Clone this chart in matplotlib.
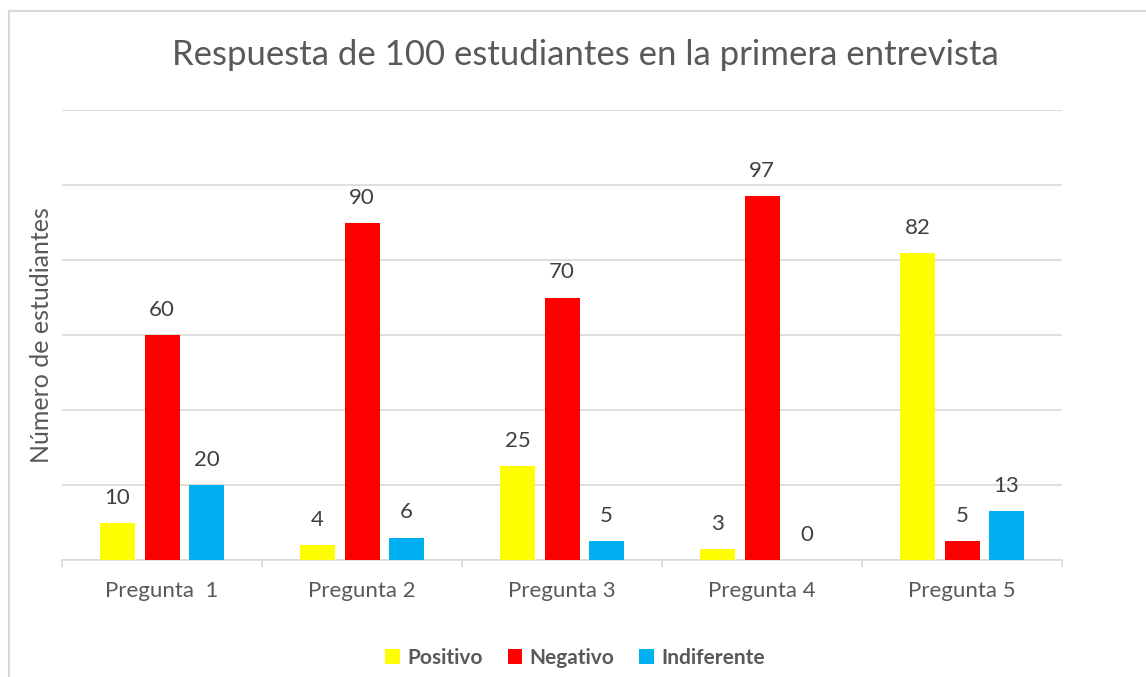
import matplotlib
matplotlib.use("Agg")
import matplotlib.pyplot as plt
import numpy as np
from matplotlib.patches import Rectangle

# datos
preguntas = ["Pregunta  1", "Pregunta 2", "Pregunta 3", "Pregunta 4", "Pregunta 5"]
positivo = [10, 4, 25, 3, 82]
negativo = [60, 90, 70, 97, 5]
indiferente = [20, 6, 5, 0, 13]

series = ["Positivo", "Negativo", "Indiferente"]
colores = ["#FFFF00", "#FF0000", "#00B0F0"]
texto = "#595959"
gris = "#D9D9D9"

plt.rcParams["font.family"] = ["Lato", "DejaVu Sans"]

fig = plt.figure(figsize=(11.46, 6.77), dpi=100)
ax = fig.add_axes([62 / 1146, 1 - 560 / 677, 1000 / 1146, 450 / 677])

# borde del grafico
fig.patches.append(Rectangle((9 / 1146, -0.05), 1.1, 1 - 11 / 677 + 0.05,
                             transform=fig.transFigure, fill=False,
                             edgecolor=gris, linewidth=1.5))

x = np.arange(len(preguntas))
ancho = 0.175
paso = 0.2225
for i, (vals, nombre, color) in enumerate(zip([positivo, negativo, indiferente], series, colores)):
    pos = x + (i - 1) * paso
    ax.bar(pos, vals, ancho, color=color, label=nombre, zorder=3)
    for p, v in zip(pos, vals):
        ax.annotate(str(v), (p, v), xytext=(0, 18), textcoords="offset points",
                    ha="center", va="center", fontsize=16, color="#404040")

ax.set_xlim(-0.5, len(preguntas) - 0.5)
ax.set_ylim(0, 120)
ax.set_yticks(np.arange(0, 121, 20))
ax.set_yticklabels([])
ax.tick_params(axis="y", length=0)
ax.grid(axis="y", color=gris, linewidth=1.2, zorder=0)

ax.set_xticks(x)
ax.set_xticklabels(preguntas, fontsize=16, color=texto)
ax.tick_params(axis="x", which="major", length=0, pad=15)
ax.set_xticks(np.arange(-0.5, len(preguntas), 1), minor=True)
ax.tick_params(axis="x", which="minor", length=5, color=gris, width=1.2)

for s in ["top", "right", "left"]:
    ax.spines[s].set_visible(False)
ax.spines["bottom"].set_color(gris)
ax.spines["bottom"].set_linewidth(1.2)

fig.text(42 / 1146, 1 - 335 / 677, "Número de estudiantes", rotation=90,
         ha="center", va="center", fontsize=18, color=texto)
fig.text(585 / 1146, 1 - 55 / 677, "Respuesta de 100 estudiantes en la primera entrevista",
         ha="center", va="center", fontsize=25, color=texto)

leg = fig.legend(loc="center", bbox_to_anchor=(575 / 1146, 1 - 658 / 677), ncol=3,
                 frameon=False, handlelength=0.7, handleheight=0.7, handletextpad=0.35,
                 columnspacing=1.2, prop={"size": 15, "weight": "bold"})
for t in leg.get_texts():
    t.set_color(texto)

fig.savefig("out.png", dpi=100)
